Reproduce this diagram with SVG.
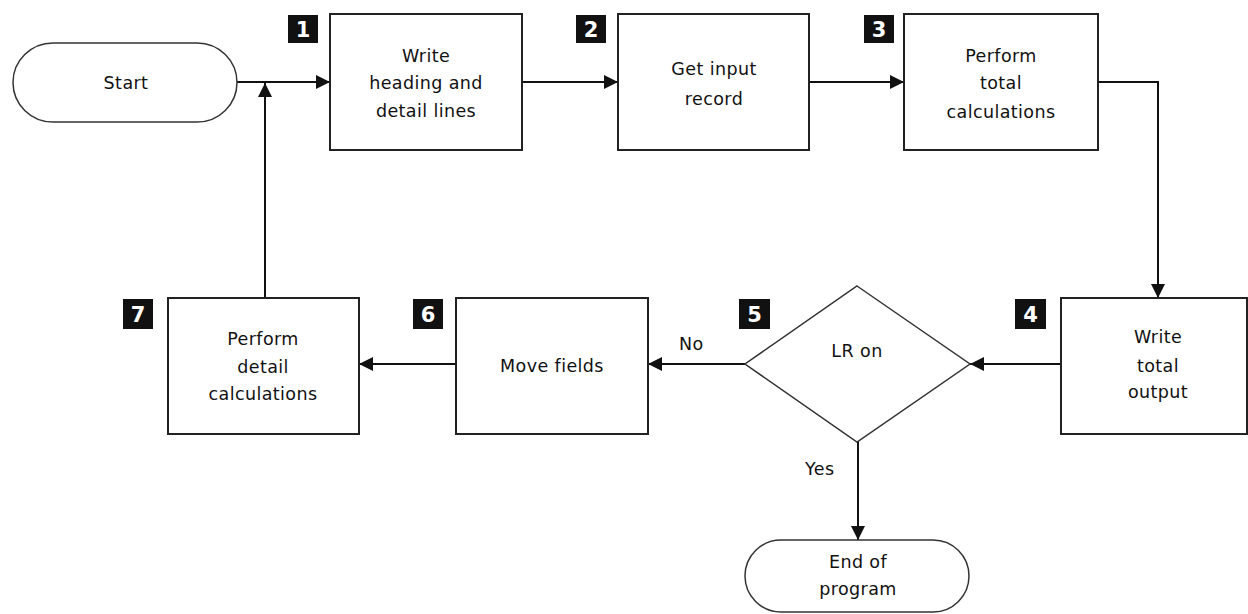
<svg xmlns="http://www.w3.org/2000/svg" width="1248" height="614" viewBox="0 0 1248 614">
<style>
.box{fill:#fff;stroke:#222;stroke-width:2}
.term{fill:#fff;stroke:#333;stroke-width:1.5}
.t{font-family:"DejaVu Sans",sans-serif;font-size:17.5px;fill:#111;text-anchor:middle;letter-spacing:0.4px}
.lbl{font-family:"DejaVu Sans",sans-serif;font-size:17.5px;fill:#111;letter-spacing:0.4px}
.badge{fill:#111}
.num{font-family:"DejaVu Sans",sans-serif;font-weight:bold;font-size:21px;fill:#fff;text-anchor:middle}
.c{fill:none;stroke:#111;stroke-width:2}
</style>
<defs>
<marker id="arr" markerUnits="userSpaceOnUse" markerWidth="16" markerHeight="16" viewBox="0 0 16 16" refX="14" refY="8" orient="auto">
<path d="M0,1 L14,8 L0,15 Z" fill="#111"/>
</marker>
</defs>
<rect width="1248" height="614" fill="#fff"/>
<g id="connectors">
<line class="c" x1="237" y1="82" x2="330" y2="82" marker-end="url(#arr)"/>
<line class="c" x1="265" y1="298" x2="265" y2="83" marker-end="url(#arr)"/>
<line class="c" x1="522" y1="82" x2="618" y2="82" marker-end="url(#arr)"/>
<line class="c" x1="809" y1="82" x2="904" y2="82" marker-end="url(#arr)"/>
<polyline class="c" points="1098,82 1158,82 1158,298" marker-end="url(#arr)"/>
<line class="c" x1="1061" y1="364" x2="970" y2="364" marker-end="url(#arr)"/>
<line class="c" x1="745" y1="364" x2="648" y2="364" marker-end="url(#arr)"/>
<line class="c" x1="456" y1="364" x2="359" y2="364" marker-end="url(#arr)"/>
<line class="c" x1="858" y1="441" x2="858" y2="540" marker-end="url(#arr)"/>
<text class="lbl" x="679" y="350">No</text>
<text class="lbl" x="805" y="475">Yes</text>
</g>
<g id="start">
<rect class="term" x="13" y="43" width="224" height="79" rx="40" ry="40"/>
<text class="t" x="126" y="89">Start</text>
</g>
<g id="n1">
<rect class="box" x="330" y="14" width="192" height="136"/>
<text class="t" x="426" y="62">Write</text>
<text class="t" x="426" y="89">heading and</text>
<text class="t" x="426" y="117">detail lines</text>
<rect class="badge" x="288" y="15" width="30" height="28"/>
<text class="num" x="303" y="37">1</text>
</g>
<g id="n2">
<rect class="box" x="618" y="14" width="191" height="136"/>
<text class="t" x="714" y="75">Get input</text>
<text class="t" x="714" y="105">record</text>
<rect class="badge" x="576" y="15" width="30" height="28"/>
<text class="num" x="591" y="37">2</text>
</g>
<g id="n3">
<rect class="box" x="904" y="14" width="194" height="136"/>
<text class="t" x="1001" y="62">Perform</text>
<text class="t" x="1001" y="89">total</text>
<text class="t" x="1001" y="118">calculations</text>
<rect class="badge" x="864" y="15" width="30" height="28"/>
<text class="num" x="879" y="37">3</text>
</g>
<g id="n4">
<rect class="box" x="1061" y="298" width="186" height="136"/>
<text class="t" x="1158" y="343">Write</text>
<text class="t" x="1158" y="372">total</text>
<text class="t" x="1158" y="398">output</text>
<rect class="badge" x="1015" y="299" width="31" height="30"/>
<text class="num" x="1030.5" y="322">4</text>
</g>
<g id="n5">
<polygon class="term" points="857,286 970,364 857,442 745,364"/>
<text class="t" x="857" y="357">LR on</text>
<rect class="badge" x="739" y="299" width="31" height="30"/>
<text class="num" x="754.5" y="322">5</text>
</g>
<g id="n6">
<rect class="box" x="456" y="298" width="192" height="136"/>
<text class="t" x="552" y="372">Move fields</text>
<rect class="badge" x="413" y="299" width="30" height="30"/>
<text class="num" x="428" y="322">6</text>
</g>
<g id="n7">
<rect class="box" x="168" y="298" width="191" height="136"/>
<text class="t" x="263" y="345">Perform</text>
<text class="t" x="263" y="373">detail</text>
<text class="t" x="263" y="400">calculations</text>
<rect class="badge" x="123" y="299" width="30" height="30"/>
<text class="num" x="138" y="322">7</text>
</g>
<g id="end">
<rect class="term" x="745" y="540" width="224" height="72" rx="36" ry="36"/>
<text class="t" x="858" y="568">End of</text>
<text class="t" x="858" y="595">program</text>
</g>
</svg>
